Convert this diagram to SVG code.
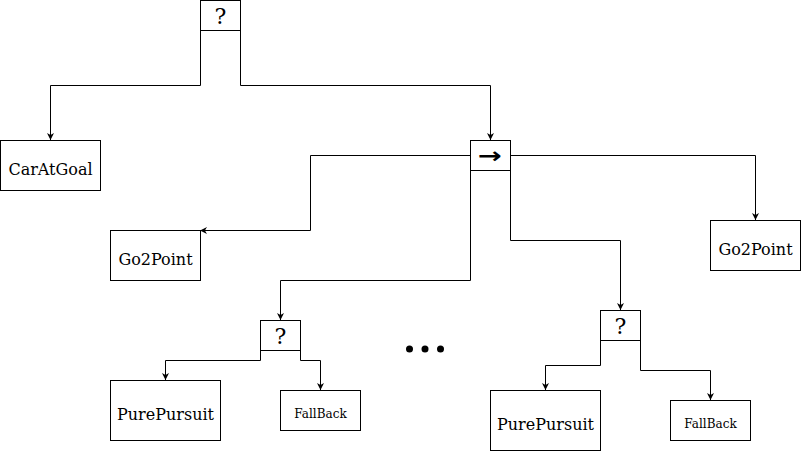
<svg xmlns="http://www.w3.org/2000/svg" width="801" height="452" viewBox="0 0 801 452">
<style>
.box{fill:#fff;stroke:#000;stroke-width:1}
.t{font-family:"DejaVu Serif",serif;fill:#000;text-anchor:middle;dominant-baseline:central}
.e{fill:none;stroke:#000;stroke-width:1}
</style>
<defs>
<marker id="ah" viewBox="0 0 10 10" refX="10" refY="5" markerWidth="7" markerHeight="7" markerUnits="userSpaceOnUse" orient="auto">
<path d="M0,0 L10,5 L0,10 L3,5 Z" fill="#000"/>
</marker>
</defs>
<rect width="801" height="452" fill="#fff"/>
<g id="connectors">
<path class="e" d="M200.5,30 V85.5 H50.5 V140" marker-end="url(#ah)"/>
<path class="e" d="M240.5,30 V85.5 H490.5 V140" marker-end="url(#ah)"/>
<path class="e" d="M470,155.5 H310.5 V230.5 H200" marker-end="url(#ah)"/>
<path class="e" d="M510,155.5 H755.5 V220" marker-end="url(#ah)"/>
<path class="e" d="M470.5,170 V280.5 H280.5 V320" marker-end="url(#ah)"/>
<path class="e" d="M510.5,170 V240.5 H620.5 V310" marker-end="url(#ah)"/>
<path class="e" d="M260.5,350 V360.5 H165.5 V380" marker-end="url(#ah)"/>
<path class="e" d="M300.5,350 V360.5 H320.5 V390" marker-end="url(#ah)"/>
<path class="e" d="M600.5,340 V365.5 H545.5 V390" marker-end="url(#ah)"/>
<path class="e" d="M640.5,340 V370.5 H710.5 V400" marker-end="url(#ah)"/>
</g>
<g id="root">
<rect class="box" x="200.5" y="0.5" width="40" height="30"/>
<text class="t" x="220.5" y="16" font-size="22">?</text>
</g>
<g id="carAtGoal">
<rect class="box" x="0.5" y="140.5" width="100" height="50"/>
<text class="t" x="50.5" y="169" font-size="16">CarAtGoal</text>
</g>
<g id="sequence">
<rect class="box" x="470.5" y="140.5" width="40" height="30"/>
<text transform="translate(490,163) scale(1.3,1)" font-family="DejaVu Sans,sans-serif" font-size="22" font-weight="bold" text-anchor="middle">→</text>
</g>
<g id="go2point1">
<rect class="box" x="110.5" y="230.5" width="90" height="50"/>
<text class="t" x="155.5" y="259" font-size="16">Go2Point</text>
</g>
<g id="go2point2">
<rect class="box" x="710.5" y="220.5" width="90" height="50"/>
<text class="t" x="755.5" y="249" font-size="16">Go2Point</text>
</g>
<g id="fallback1">
<rect class="box" x="260.5" y="320.5" width="40" height="30"/>
<text class="t" x="280.5" y="336" font-size="22">?</text>
</g>
<g id="fallback2">
<rect class="box" x="600.5" y="310.5" width="40" height="30"/>
<text class="t" x="620.5" y="326" font-size="22">?</text>
</g>
<g id="purePursuit1">
<rect class="box" x="110.5" y="380.5" width="110" height="60"/>
<text class="t" x="165.5" y="414" font-size="16">PurePursuit</text>
</g>
<g id="fallBack1">
<rect class="box" x="280.5" y="390.5" width="80" height="40"/>
<text class="t" x="320.5" y="414" font-size="12">FallBack</text>
</g>
<g id="purePursuit2">
<rect class="box" x="490.5" y="390.5" width="110" height="60"/>
<text class="t" x="545.5" y="424" font-size="16">PurePursuit</text>
</g>
<g id="fallBack2">
<rect class="box" x="670.5" y="400.5" width="80" height="40"/>
<text class="t" x="710.5" y="424" font-size="12">FallBack</text>
</g>
<g id="ellipsis">
<circle cx="409.5" cy="349" r="3.5"/>
<circle cx="425" cy="349" r="3.5"/>
<circle cx="440.5" cy="349" r="3.5"/>
</g>
</svg>
